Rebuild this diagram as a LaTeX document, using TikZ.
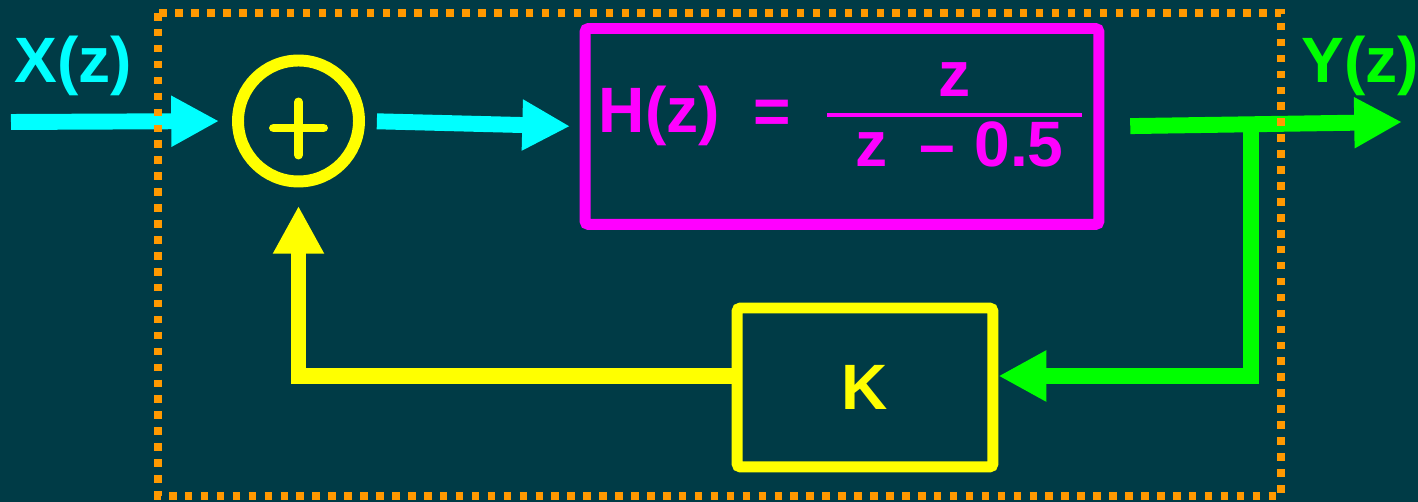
\documentclass[tikz,border=0pt]{standalone}
\usepackage{fontspec}
\setmainfont{Liberation Sans}
\usetikzlibrary{arrows.meta}
\definecolor{nen}{RGB}{0,59,70}
\definecolor{xanh}{RGB}{0,255,255}
\definecolor{vang}{RGB}{255,255,0}
\definecolor{hong}{RGB}{255,0,255}
\definecolor{luc}{RGB}{0,255,0}
\definecolor{cam}{RGB}{255,153,0}
\begin{document}
\begin{tikzpicture}[x=0.02cm, y=-0.02cm, >={Triangle[length=27.2pt, width=27.2pt]},
    every node/.style={font=\fontsize{36.5}{40}\selectfont\bfseries},
    khoi/.style={draw, rectangle, rounded corners=2pt, line width=6.24pt},
    muiten/.style={->, line width=9.07pt}]
    % Nền
    \fill[nen] (0,0) rectangle (1418,502);
    \useasboundingbox (0,0) rectangle (1418,502);
    % Bộ cộng
    \node[circle, draw=vang, line width=6.8pt, minimum size=2.42cm] (sum) at (298.5,121) {};
    \draw[vang, line width=5.1pt, line cap=round] ([shift={(-25,7)}]sum.center) -- ([shift={(25,7)}]sum.center);
    \draw[vang, line width=5.1pt, line cap=round] ([shift={(0,-19)}]sum.center) -- ([shift={(0,34)}]sum.center);
    % Khối H(z)
    \node[khoi, draw=hong, minimum width=10.28cm, minimum height=3.92cm] (H) at (842,126.5) {};
    \node[hong, anchor=base] (hz) at (659.5,133) {H(z)};
    \node[hong] (bang) at (772.5,117) {=};
    \node[hong] (tu) at (955,80) {z};
    \draw[hong, line width=2.27pt] (827,115) -- (1082,115);
    \node[hong, anchor=base] (mau) at (959.5,167) {z\hspace{0.5em}–\hspace{0.3em}0.5};
    % Khối K
    \node[khoi, draw=vang, text=vang, minimum width=5.12cm, minimum height=3.18cm] (K) at (865,387.5) {K};
    % Tín hiệu vào, ra
    \node[xanh, anchor=base] (X) at (73.5,83) {X(z)};
    \node[luc, anchor=base] (Y) at (1360,83) {Y(z)};
    \coordinate (xin) at (11,122);
    \coordinate (yout) at (1402,122);
    \coordinate (tap) at (1251,125);
    \coordinate (turn) at (1251,376);
    % Các mũi tên
    \draw[muiten, xanh, shorten >=7.4pt] (xin) -- (sum.west);
    \draw[muiten, xanh, shorten <=6.8pt, shorten >=5.4pt] (sum.east) -- (H.west);
    \draw[muiten, luc, shorten <=14.7pt] (H.east) -- (yout);
    \draw[muiten, luc] (tap) -- (turn) -- (K.east |- turn);
    \draw[muiten, vang, shorten >=10.5pt] (K.west |- turn) -| (sum.south);
    % Khung chấm
    \draw[cam, line width=4.3pt, dash pattern=on 4.3pt off 4.77pt] (158,13) rectangle (1281,496);
\end{tikzpicture}
\end{document}
